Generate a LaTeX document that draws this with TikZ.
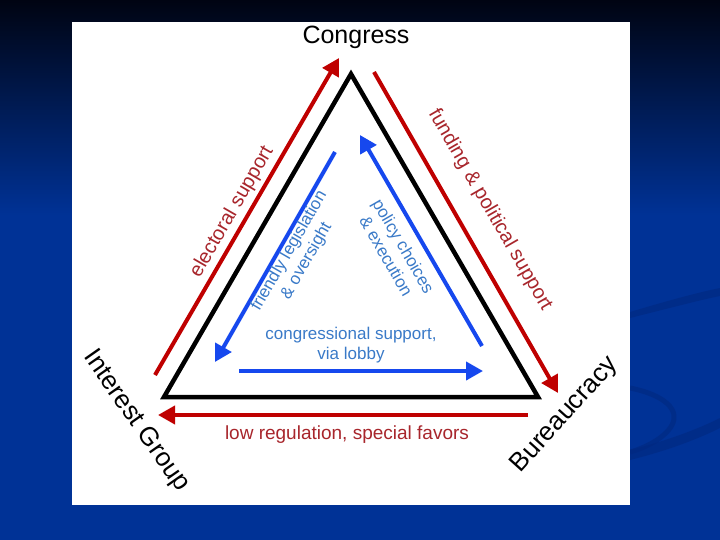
\documentclass[tikz,border=0pt]{standalone}
\usepackage{fontspec}
\setmainfont{Liberation Sans}
\usepackage{tikz}
\usetikzlibrary{arrows.meta,positioning}
\definecolor{slideTop}{RGB}{0,4,18}
\definecolor{slideBlue}{RGB}{0,50,150}
\definecolor{slideSwoosh}{RGB}{0,40,128}
\colorlet{flowRed}{red!75!black}
\definecolor{labelRed}{RGB}{168,38,44}
\definecolor{flowBlue}{RGB}{22,72,238}
\definecolor{labelBlue}{RGB}{58,122,200}

\begin{document}
\begin{tikzpicture}[x=1pt, y=-1pt,
    redflow/.style={flowRed, line width=4pt, -{Triangle[length=17pt,width=18pt]}},
    blueflow/.style={flowBlue, line width=4pt, -{Triangle[length=17pt,width=18pt]}},
    corner/.style={font=\fontsize{26}{28}\selectfont, inner sep=0pt},
    redlabel/.style={labelRed, font=\fontsize{20}{22}\selectfont, inner sep=0pt},
    bluelabel/.style={labelBlue, font=\fontsize{17}{20}\selectfont, align=center, inner sep=0pt}]

      \useasboundingbox (0,0) rectangle (720,540);

      % --- slide background ---
      \fill[slideBlue] (0,0) rectangle (720,540);
      \shade[top color=slideTop, bottom color=slideBlue] (0,0) rectangle (720,215);
      % faint swooshes on the right
      \fill[slideSwoosh, opacity=0.6]
        (630,312) .. controls (670,300) and (700,292) .. (720,288)
        -- (720,296) .. controls (700,300) and (670,308) .. (630,318) -- cycle;
      \draw[slideSwoosh, opacity=0.6, line width=5pt]
        (630,388) .. controls (665,395) and (680,410) .. (672,425)
        .. controls (665,438) and (645,448) .. (630,452);
      \fill[slideSwoosh, opacity=0.6]
        (630,450) .. controls (670,440) and (700,428) .. (720,418)
        -- (720,428) .. controls (700,438) and (670,450) .. (630,460) -- cycle;

      % --- white panel ---
      \fill[white] (72,22) rectangle (630,505);

      % corners of the triangle
      \coordinate (top) at (351,74);
      \coordinate (left) at (164,397);
      \coordinate (right) at (538,397);

      % iron triangle
      \draw[black, line width=4.5pt, line join=miter] (top) -- (left) -- (right) -- cycle;

      % --- corner labels ---
      \node[corner, font=\fontsize{25}{27}\selectfont] (congress) at (356,37) {Congress};
      \node[corner, rotate=-55] (interest) at (136,421) {Interest Group};
      \node[corner, rotate=48] (bureau) at (565,415) {Bureaucracy};

      % --- outer flows (red) ---
      \coordinate (elecA) at (155,375);
      \coordinate (elecB) at (339,58);
      \coordinate (fundA) at (374,72);
      \coordinate (fundB) at (558,393);
      \coordinate (regA) at (528,415);
      \coordinate (regB) at (158,415);
      \draw[redflow] (elecA) -- (elecB);
      \draw[redflow] (fundA) -- (fundB);
      \draw[redflow] (regA) -- (regB);
      \node[redlabel, rotate=60] (elec) at (232,212) {electoral support};
      \node[redlabel, rotate=-60] (fund) at (490,210) {funding \& political support};
      \node[redlabel, font=\fontsize{19}{21}\selectfont] (reg) at (347,435) {low regulation, special favors};

      % --- inner flows (blue) ---
      \coordinate (legA) at (335,152);
      \coordinate (legB) at (215,362);
      \coordinate (polA) at (482,346);
      \coordinate (polB) at (360,135);
      \coordinate (lobA) at (239,371);
      \coordinate (lobB) at (483,371);
      \draw[blueflow] (legA) -- (legB);
      \draw[blueflow] (polA) -- (polB);
      \draw[blueflow] (lobA) -- (lobB);
      \node[bluelabel, rotate=60] (leg) at (298,256) {friendly legislation\\\& oversight};
      \node[bluelabel, rotate=-60] (pol) at (395,251) {policy choices\\\& execution};
      \node[bluelabel] (lob) at (351,345) {congressional support,\\via lobby};
    \end{tikzpicture}
\end{document}
